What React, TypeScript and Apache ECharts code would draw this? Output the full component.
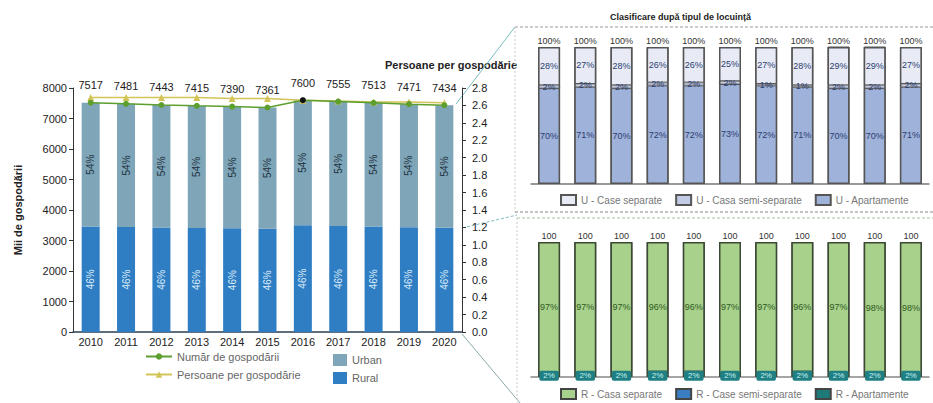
import React, { useEffect, useRef } from "react";
import * as echarts from "echarts";

const years = ["2010", "2011", "2012", "2013", "2014", "2015", "2016", "2017", "2018", "2019", "2020"];
const totalHouseholds = [7517, 7481, 7443, 7415, 7390, 7361, 7600, 7555, 7513, 7471, 7434];
const ruralHouseholds = [3458, 3441, 3424, 3411, 3399, 3386, 3496, 3475, 3456, 3437, 3420];
const urbanHouseholds = [4059, 4040, 4019, 4004, 3991, 3975, 4104, 4080, 4057, 4034, 4014];
const ruralShare = [46, 46, 46, 46, 46, 46, 46, 46, 46, 46, 46];
const urbanShare = [54, 54, 54, 54, 54, 54, 54, 54, 54, 54, 54];
const personsPerHousehold = [2.69, 2.69, 2.69, 2.69, 2.68, 2.68, 2.66, 2.65, 2.64, 2.64, 2.63];

const uSeparate = [28, 27, 28, 26, 26, 25, 27, 28, 29, 29, 27];
const uSemi = [2, 2, 2, 2, 2, 2, 1, 1, 2, 2, 2];
const uApart = [70, 71, 70, 72, 72, 73, 72, 71, 70, 70, 71];
const uTotal = [100, 100, 100, 100, 100, 100, 100, 100, 100, 100, 100];

const rSeparate = [97, 97, 97, 96, 96, 97, 97, 96, 97, 98, 98];
const rSemi = [1, 1, 1, 2, 2, 1, 1, 2, 1, 0, 0];
const rApart = [2, 2, 2, 2, 2, 2, 2, 2, 2, 2, 2];
const rTotal = [100, 100, 100, 100, 100, 100, 100, 100, 100, 100, 100];

const FONT = "Liberation Sans, Arial, sans-serif";

export default function App() {
  const ref = useRef<HTMLDivElement>(null);
  useEffect(() => {
    if (!ref.current) return;
    const chart = echarts.init(ref.current, undefined, { renderer: "svg" });
    const smallLbl = (arr: number[], color: string) => ({
      show: true,
      position: "inside",
      formatter: (p: any) => arr[p.dataIndex] + "%",
      color,
      fontSize: 9,
      fontFamily: FONT,
    });
    const option: any = {
      animation: false,
      textStyle: { fontFamily: FONT },
      grid: [
        { left: 73, top: 88, width: 389, height: 244 },
        { left: 531, top: 47, width: 398, height: 137 },
        { left: 531, top: 242, width: 398, height: 135 },
      ],
      xAxis: [
        {
          type: "category", gridIndex: 0, data: years,
          axisLine: { lineStyle: { color: "#2a3f55", width: 1.5 } },
          axisTick: { show: false },
          axisLabel: { color: "#222", fontSize: 11, margin: 4 },
        },
        {
          type: "category", gridIndex: 1, data: years,
          axisLine: { lineStyle: { color: "#777", width: 1.5 } },
          axisTick: { show: false }, axisLabel: { show: false },
        },
        {
          type: "category", gridIndex: 2, data: years,
          axisLine: { lineStyle: { color: "#888", width: 1.5 } },
          axisTick: { show: false }, axisLabel: { show: false },
        },
      ],
      yAxis: [
        {
          type: "value", gridIndex: 0, min: 0, max: 8000, interval: 1000,
          name: "Mii de gospodării", nameLocation: "middle", nameGap: 50, nameRotate: 90,
          nameTextStyle: { fontWeight: "bold", fontSize: 11, color: "#222" },
          axisLine: { show: true, lineStyle: { color: "#333" } },
          axisTick: { show: true, length: 4, lineStyle: { color: "#333" } },
          axisLabel: { color: "#222", fontSize: 11, margin: 6, formatter: (v: number) => String(v) },
          splitLine: { show: false },
        },
        {
          type: "value", gridIndex: 0, min: 0, max: 2.8, interval: 0.2, position: "right",
          axisLine: { show: true, lineStyle: { color: "#333" } },
          axisTick: { show: true, length: 4, lineStyle: { color: "#333" } },
          axisLabel: { color: "#222", fontSize: 11, margin: 10, formatter: (v: number) => v.toFixed(1) },
          splitLine: { show: false },
        },
        { type: "value", gridIndex: 1, min: 0, max: 100, show: false, splitLine: { show: false } },
        { type: "value", gridIndex: 2, min: 0, max: 100, show: false, splitLine: { show: false } },
      ],
      legend: [
        {
          left: 140, top: 346, orient: "vertical", itemGap: 7, itemWidth: 26, itemHeight: 8,
          data: ["Număr de gospodării", "Persoane per gospodărie"],
          textStyle: { color: "#666", fontSize: 11 },
        },
        {
          left: 328, top: 349, orient: "vertical", itemGap: 6, itemWidth: 14, itemHeight: 12, icon: "rect",
          data: ["Urban", "Rural"],
          textStyle: { color: "#666", fontSize: 11 },
        },
        {
          left: 555, top: 189, itemGap: 13, itemWidth: 15, itemHeight: 10, icon: "rect",
          data: ["U - Case separate", "U - Casa semi-separate", "U - Apartamente"],
          textStyle: { color: "#777", fontSize: 10 },
        },
        {
          left: 555, top: 383, itemGap: 13, itemWidth: 15, itemHeight: 10, icon: "rect",
          data: ["R - Casa separate", "R - Case semi-separate", "R - Apartamente"],
          textStyle: { color: "#777", fontSize: 10 },
        },
      ],
      series: [
        {
          name: "Rural", type: "bar", xAxisIndex: 0, yAxisIndex: 0, stack: "hh", barWidth: 18,
          data: ruralHouseholds,
          itemStyle: { color: "#2f7ec4" },
          label: {
            show: true, position: "inside", rotate: 90, fontSize: 10, color: "#d9eaf7",
            formatter: (p: any) => ruralShare[p.dataIndex] + "%",
          },
        },
        {
          name: "Urban", type: "bar", xAxisIndex: 0, yAxisIndex: 0, stack: "hh", barWidth: 18,
          data: urbanHouseholds,
          itemStyle: { color: "#7fa5b8" },
          label: {
            show: true, position: "inside", rotate: 90, fontSize: 10, color: "#1e3340",
            formatter: (p: any) => urbanShare[p.dataIndex] + "%",
          },
        },
        {
          name: "Număr de gospodării", type: "line", xAxisIndex: 0, yAxisIndex: 0,
          data: totalHouseholds.map((v, i) => (i === 6 ? { value: v, itemStyle: { color: "#111" } } : v)),
          symbol: "circle", symbolSize: 6,
          lineStyle: { color: "#5c9f2e", width: 1.5 },
          itemStyle: { color: "#5c9f2e" },
          label: { show: true, position: "top", distance: 9, color: "#222", fontSize: 11 },
          z: 5,
        },
        {
          name: "Persoane per gospodărie", type: "line", xAxisIndex: 0, yAxisIndex: 1,
          data: personsPerHousehold,
          symbol: "triangle", symbolSize: 7,
          lineStyle: { color: "#d2c456", width: 1.5 },
          itemStyle: { color: "#d2c456" },
          z: 4,
        },
        {
          name: "U - Apartamente", type: "bar", xAxisIndex: 1, yAxisIndex: 2, stack: "u", barWidth: 22, barGap: "-100%",
          data: uApart,
          itemStyle: { color: "#9fb2da", borderColor: "#555", borderWidth: 1 },
          label: smallLbl(uApart, "#2b3d70"),
        },
        {
          name: "U - Casa semi-separate", type: "bar", xAxisIndex: 1, yAxisIndex: 2, stack: "u", barWidth: 22, barGap: "-100%",
          data: uSemi,
          itemStyle: { color: "#c3cce5", borderColor: "#555", borderWidth: 0.5 },
          label: smallLbl(uSemi, "#2b3d70"),
        },
        {
          name: "U - Case separate", type: "bar", xAxisIndex: 1, yAxisIndex: 2, stack: "u", barWidth: 22, barGap: "-100%",
          data: uSeparate,
          itemStyle: { color: "#e8ebf5", borderColor: "#555", borderWidth: 1 },
          label: smallLbl(uSeparate, "#2b3d70"),
        },
        {
          name: "U - total", type: "bar", xAxisIndex: 1, yAxisIndex: 2, stack: "ut", barWidth: 22, barGap: "-100%",
          data: uTotal,
          itemStyle: { color: "rgba(0,0,0,0)", borderColor: "#555", borderWidth: 1.5 },
          label: { show: true, position: "top", distance: 2, color: "#333", fontSize: 9, formatter: (p: any) => uTotal[p.dataIndex] + "%" },
          silent: true,
        },
        {
          name: "R - Apartamente", type: "bar", xAxisIndex: 2, yAxisIndex: 3, stack: "r", barWidth: 22, barGap: "-100%",
          data: rApart,
          itemStyle: { color: "#1e7a78", borderColor: "#444", borderWidth: 1 },
          label: {
            show: true, position: "inside", color: "#c6f3f5", fontSize: 8, backgroundColor: "#1f7f83",
            padding: [1, 4], borderRadius: 2,
            formatter: (p: any) => rApart[p.dataIndex] + "%",
          },
        },
        {
          name: "R - Case semi-separate", type: "bar", xAxisIndex: 2, yAxisIndex: 3, stack: "r", barWidth: 22, barGap: "-100%",
          data: rSemi,
          itemStyle: { color: "#3a7dc0", borderColor: "#444", borderWidth: 0.5 },
        },
        {
          name: "R - Casa separate", type: "bar", xAxisIndex: 2, yAxisIndex: 3, stack: "r", barWidth: 22, barGap: "-100%",
          data: rSeparate,
          itemStyle: { color: "#a8d18b", borderColor: "#444", borderWidth: 1 },
          label: smallLbl(rSeparate, "#2f5a1e"),
        },
        {
          name: "R - total", type: "bar", xAxisIndex: 2, yAxisIndex: 3, stack: "rt", barWidth: 22, barGap: "-100%",
          data: rTotal,
          itemStyle: { color: "rgba(0,0,0,0)", borderColor: "#3b4a33", borderWidth: 1.5 },
          label: { show: true, position: "top", distance: 2, color: "#333", fontSize: 9, formatter: (p: any) => String(rTotal[p.dataIndex]) },
          silent: true,
        },
      ],
      graphic: [
        {
          type: "text", left: 610, top: 12,
          style: { text: "Clasificare după tipul de locuință", fontSize: 9, fontWeight: "bold", fill: "#222", fontFamily: FONT },
        },
        {
          type: "text", left: 385, top: 59,
          style: { text: "Persoane per gospodărie", fontSize: 11, fontWeight: "bold", fill: "#222", fontFamily: FONT },
        },
        { type: "line", shape: { x1: 456, y1: 104, x2: 515, y2: 27 }, style: { stroke: "#7bbcc0", lineWidth: 1 } },
        { type: "line", shape: { x1: 462, y1: 228, x2: 517, y2: 215 }, style: { stroke: "#7bbcc0", lineWidth: 1, lineDash: [3, 2] } },
        { type: "line", shape: { x1: 462, y1: 334, x2: 520, y2: 403 }, style: { stroke: "#8aa8aa", lineWidth: 1 } },
        { type: "line", shape: { x1: 515, y1: 27, x2: 933, y2: 27 }, style: { stroke: "#999", lineWidth: 1, lineDash: [3, 2] } },
        { type: "line", shape: { x1: 515, y1: 27, x2: 515, y2: 212 }, style: { stroke: "#c8c8c8", lineWidth: 1, lineDash: [2, 2] } },
        { type: "line", shape: { x1: 515, y1: 212, x2: 933, y2: 212 }, style: { stroke: "#888", lineWidth: 1, lineDash: [3, 2] } },
        { type: "line", shape: { x1: 517, y1: 218, x2: 933, y2: 218 }, style: { stroke: "#a9c2a0", lineWidth: 1, lineDash: [3, 2] } },
        { type: "line", shape: { x1: 517, y1: 218, x2: 517, y2: 403 }, style: { stroke: "#c8c8c8", lineWidth: 1, lineDash: [2, 2] } },
      ],
    };
    chart.setOption(option);
    return () => chart.dispose();
  }, []);
  return <div ref={ref} style={{ position: "fixed", left: 0, top: 0, width: 933, height: 403, background: "#fff" }} />;
}
